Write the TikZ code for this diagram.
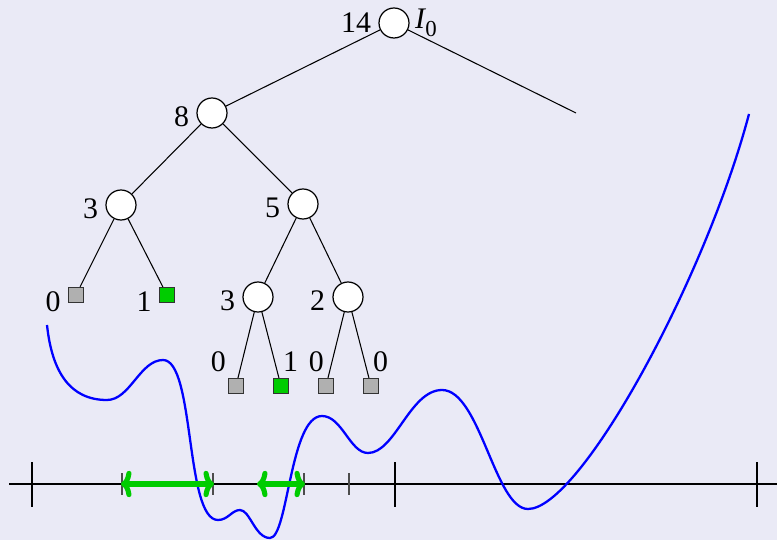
\documentclass[tikz,border=0pt]{standalone}
\usepackage{fontspec}
\setmainfont{Liberation Serif}
\usetikzlibrary{arrows.meta}

\definecolor{slidebg}{RGB}{234,234,246}
\definecolor{leafgray}{RGB}{176,176,176}
\definecolor{hitgreen}{RGB}{0,204,0}

\begin{document}
\begin{tikzpicture}[x=0.02cm, y=-0.02cm, >={To[width=15pt, length=6pt]},
    knot/.style={draw, circle, fill=white, line width=0.7pt, minimum size=0.6cm, inner sep=0pt},
    leaf/.style={draw=black!80, fill=leafgray, line width=0.7pt, minimum size=0.3cm, inner sep=0pt},
    hit/.style={leaf, fill=hitgreen},
    every label/.style={font=\fontsize{17}{20}\selectfont, inner xsep=4pt},
    cnt/.style={yshift=-0.08cm},
    lcnt/.style={yshift=-0.14cm},
    topcnt/.style={inner xsep=1pt, inner ysep=3.5pt}]
    \useasboundingbox (0,0) rectangle (777,540);
    \fill[slidebg] (0,0) rectangle (777,540);

    % the tree
    \node[knot, label={left:14},
          label={[inner xsep=3pt]right:\textit{I}\kern-0.5pt\raisebox{-0.6ex}{\fontsize{13}{15}\selectfont 0}}] (I0) at (394,23) {};
    \coordinate (I0r) at (576,113);
    \node[knot, label={[cnt]left:8}] (n8) at (212,113) {};
    \node[knot, label={[cnt]left:3}] (n3) at (121,205) {};
    \node[knot, label={[cnt]left:5}] (n5) at (303,204) {};
    \node[leaf, label={[lcnt]left:0}] (l3a) at (76,295) {};
    \node[hit, label={[lcnt]left:1}] (l3b) at (167,295) {};
    \node[knot, label={[cnt]left:3}] (n3b) at (258,297) {};
    \node[knot, label={[cnt]left:2}] (n2) at (348,297) {};
    \node[leaf, label={[topcnt, anchor=south east]north west:0}] (l4a) at (236,386) {};
    \node[hit, label={[topcnt, anchor=south west]north:1}] (l4b) at (281,386) {};
    \node[leaf, label={[topcnt, anchor=south east]north:0}] (l4c) at (326,386) {};
    \node[leaf, label={[topcnt, anchor=south west]north:0}] (l4d) at (371,386) {};

    \draw[line width=0.6pt] (I0) -- (n8);
    \draw[line width=0.6pt] (I0) -- (I0r);
    \draw[line width=0.6pt] (n8) -- (n3);
    \draw[line width=0.6pt] (n8) -- (n5);
    \draw[line width=0.6pt] (n3) -- (l3a);
    \draw[line width=0.6pt] (n3) -- (l3b);
    \draw[line width=0.6pt] (n5) -- (n3b);
    \draw[line width=0.6pt] (n5) -- (n2);
    \draw[line width=0.6pt] (n3b) -- (l4a);
    \draw[line width=0.6pt] (n3b) -- (l4b);
    \draw[line width=0.6pt] (n2) -- (l4c);
    \draw[line width=0.6pt] (n2) -- (l4d);

    % the axis
    \draw[line width=0.7pt] (9,484) -- (777,484);
    \foreach \x in {32,395,757}
        \draw[line width=0.7pt] (\x,462) -- (\x,507);
    \foreach \x in {122,213,304,349}
        \draw[line width=0.7pt, black!70] (\x,473) -- (\x,495);

    % the function
    \draw[blue, line width=1.3pt] (47,325)
        .. controls (52,372) and (70,400) .. (107,400)
        .. controls (130,400) and (140,360) .. (163,360)
        .. controls (195,360) and (185,520) .. (218,520)
        .. controls (228,520) and (232,510) .. (240,510)
        .. controls (250,510) and (255,538) .. (270,538)
        .. controls (288,538) and (290,416) .. (322,416)
        .. controls (342,416) and (350,453) .. (368,453)
        .. controls (395,453) and (410,390) .. (442,390)
        .. controls (480,390) and (495,509) .. (528,509)
        .. controls (580,509) and (705,280) .. (749,114);

    % the intervals
    \coordinate (a1) at (121,484);
    \coordinate (a2) at (214,484);
    \coordinate (b1) at (257,484);
    \coordinate (b2) at (305,484);
    \draw[<->, hitgreen, line width=2.9pt] (a1) -- (a2);
    \draw[<->, hitgreen, line width=2.9pt] (b1) -- (b2);
\end{tikzpicture}
\end{document}
